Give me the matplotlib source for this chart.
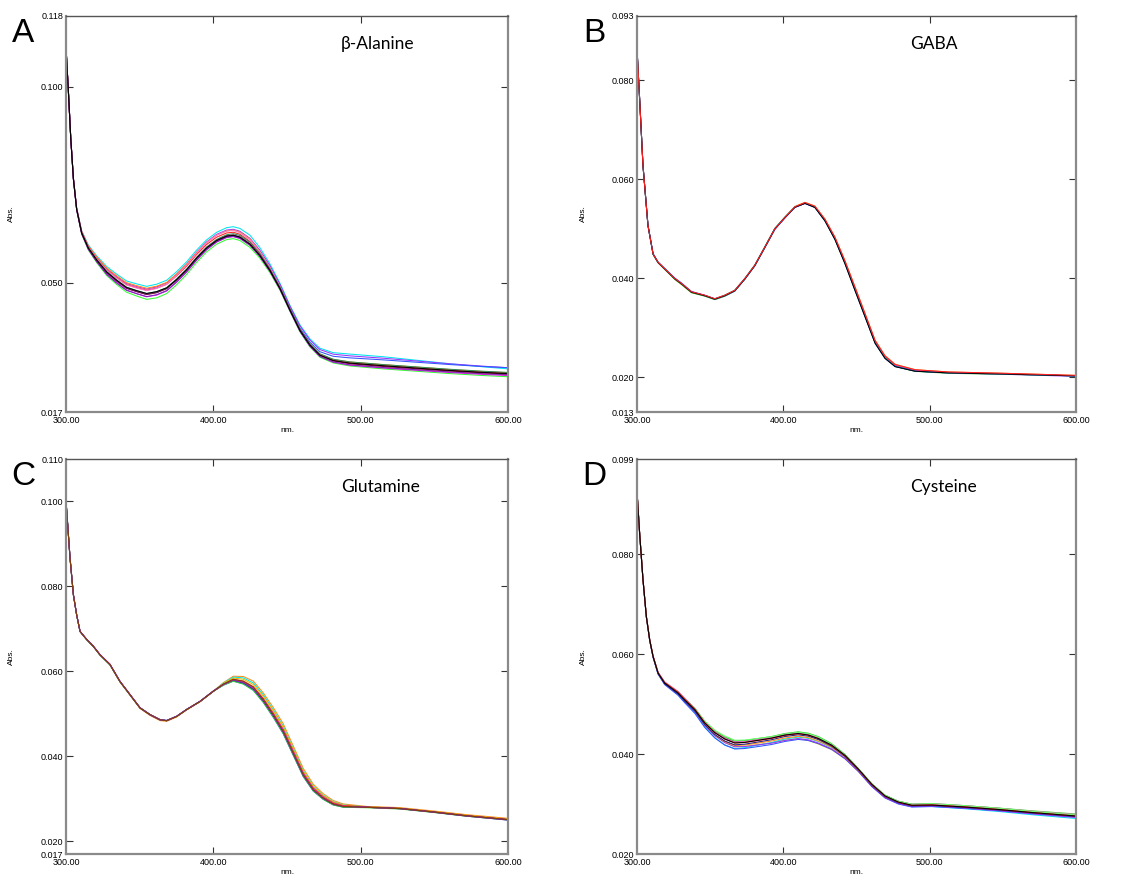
import matplotlib.pyplot as plt
import numpy as np

# ---- data (middle trace of each panel, Abs) ----
wl_a = [300, 301.6, 303.2, 305, 307.2, 310.6, 315.1, 320.8, 327.6, 334.4,
        341.1, 347.9, 354.7, 361.5, 368.3, 375.1, 381.8, 388.6, 395.4, 402.2,
        409, 413.5, 418, 424.8, 431.6, 438.4, 445.2, 451.9, 458.7, 465.5,
        472.3, 481.3, 492.6, 515.2, 537.8, 560.5, 583.1, 600]
abs_a = [0.1098, 0.0987, 0.0868, 0.0765, 0.0688, 0.0628, 0.0590, 0.0560, 0.0530, 0.0509,
         0.0491, 0.0483, 0.0476, 0.0481, 0.0491, 0.0513, 0.0538, 0.0568, 0.0594, 0.0613,
         0.0624, 0.0626, 0.0621, 0.0603, 0.0573, 0.0534, 0.0487, 0.0432, 0.0380, 0.0342,
         0.0316, 0.0302, 0.0295, 0.0288, 0.0282, 0.0276, 0.0271, 0.0268]

wl_b = [300, 301.8, 304.1, 307.5, 311, 314.4, 318.9, 325.8, 330.3, 337.2,
        346.3, 353.2, 360, 366.8, 373.7, 380.5, 387.4, 394.2, 401.1, 407.9,
        414.8, 421.6, 428.5, 435.3, 442.1, 449, 455.8, 462.7, 469.5, 476.4,
        490, 512.9, 547.1, 600]
abs_b = [0.0864, 0.0763, 0.0628, 0.0507, 0.0449, 0.0432, 0.0419, 0.0399, 0.0389, 0.0372,
         0.0365, 0.0358, 0.0365, 0.0375, 0.0399, 0.0426, 0.0463, 0.0500, 0.0523, 0.0544,
         0.0552, 0.0544, 0.0517, 0.0480, 0.0432, 0.0378, 0.0325, 0.0271, 0.0240, 0.0223,
         0.0213, 0.0209, 0.0207, 0.0203]

wl_c = [300, 302.7, 305, 307.2, 309.5, 314, 318.5, 323, 329.8, 336.6,
        343.4, 350.2, 357, 363.8, 368.3, 375.1, 381.8, 390.9, 399.9, 406.7,
        413.5, 420.3, 427.1, 433.8, 440.6, 447.4, 454.2, 461, 467.8, 474.5,
        481.3, 488.1, 503.9, 526.5, 549.1, 571.8, 600]
abs_c = [0.1000, 0.0867, 0.0780, 0.0733, 0.0694, 0.0675, 0.0659, 0.0639, 0.0616, 0.0576,
         0.0545, 0.0514, 0.0498, 0.0486, 0.0484, 0.0494, 0.0510, 0.0529, 0.0553, 0.0569,
         0.0580, 0.0575, 0.0561, 0.0533, 0.0498, 0.0459, 0.0408, 0.0357, 0.0322, 0.0302,
         0.0288, 0.0282, 0.0280, 0.0277, 0.0269, 0.0260, 0.0251]

wl_d = [300, 301.8, 304.1, 306.4, 308.7, 311, 314.4, 318.9, 323.5, 328.1,
        332.6, 339.5, 346.3, 353.2, 360, 366.8, 373.7, 382.8, 391.9, 401.1,
        410.2, 417, 423.9, 433, 442.1, 451.3, 460.4, 469.5, 478.6, 487.8,
        501.5, 524.3, 547.1, 569.9, 600]
abs_d = [0.0926, 0.0842, 0.0749, 0.0675, 0.0628, 0.0595, 0.0562, 0.0542, 0.0532, 0.0522,
         0.0508, 0.0488, 0.0461, 0.0441, 0.0428, 0.0420, 0.0421, 0.0425, 0.0429, 0.0435,
         0.0438, 0.0435, 0.0428, 0.0415, 0.0395, 0.0368, 0.0338, 0.0315, 0.0303, 0.0297,
         0.0298, 0.0294, 0.0289, 0.0283, 0.0276]

# deviation of each repeat scan from the middle trace (mAbs) at these wavelengths
anchor_wl = [300, 330, 360, 400, 425, 450, 500, 600]

colors_a = ['#00e5ee', '#9933ff', '#3355ff', '#ff8c1a', '#ff2020', '#ff77cc',
            '#2e8b57', '#33ff33', '#e020e0', '#8020c0', '#801040', '#000000']
dev_a = [[0, 1.2, 1.5, 1.5, 1.8, 1.0, 2.5, 1.2],
         [0, 0.6, 0.8, 1.0, 1.0, 0.8, 2.0, 1.5],
         [0, -0.5, -0.6, -0.6, -0.6, 0.2, 1.5, 1.5],
         [0, 0.8, 1.0, 0.8, 0.8, 0.0, 0.3, 0.2],
         [0, 0.3, 0.5, 0.3, 0.2, 0.0, 0.0, 0.0],
         [0, 0.2, 0.4, 0.8, 0.6, 0.2, -0.3, -0.4],
         [0, -0.2, -0.4, -0.3, 0.0, 0.2, 0.3, 0.3],
         [0, -1.3, -2.0, -1.5, -1.3, -0.5, -0.8, -0.8],
         [0, -0.8, -1.3, -1.0, -0.8, -0.3, -0.6, -0.5],
         [0, -1.0, -1.2, -0.9, -0.7, -0.3, -0.5, -0.3],
         [0, -0.5, -0.7, -0.5, -0.4, 0.0, -0.2, -0.1],
         [0, -0.3, -0.4, -0.6, -0.5, -0.2, 0.0, 0.0]]

colors_b = ['#ff8c1a', '#9933ff', '#e020e0', '#00e5ee', '#33cc33', '#3355ff', '#000000', '#ff2020']
dev_b = [[0, -0.1, 0.1, 0.1, 0.2, 0.5, 0.2, 0.1],
         [0, 0.0, -0.1, 0.0, -0.1, 0.0, 0.0, -0.1],
         [0, 0.1, 0.0, -0.1, 0.0, 0.1, 0.1, 0.0],
         [0, 0.0, 0.1, 0.1, -0.1, -0.2, 0.0, 0.0],
         [0, -0.1, -0.1, 0.0, 0.0, 0.0, -0.1, 0.0],
         [0, 0.2, 0.0, -0.1, 0.0, -0.2, 0.0, 0.0],
         [0, 0.0, 0.0, 0.0, -0.1, -0.3, 0.0, 0.0],
         [0, 0.1, 0.1, 0.0, 0.2, 0.4, 0.2, 0.1]]

colors_c = ['#ff8c1a', '#00e5ee', '#e0c000', '#ff2020', '#000000',
            '#3355ff', '#33cc33', '#e020e0', '#8020c0', '#804000']
dev_c = [[0, 0.0, -0.2, 0.0, 1.6, 1.8, 0.2, 0.3],
         [0, 0.0, 0.0, 0.0, 1.2, 1.2, 0.1, 0.0],
         [0, 0.0, 0.0, 0.0, 0.8, 1.0, 0.1, 0.1],
         [0, 0.1, 0.0, 0.0, 0.3, 0.5, 0.1, 0.0],
         [0, 0.0, 0.0, 0.0, -0.3, -0.3, 0.0, 0.0],
         [0, 0.0, 0.1, 0.0, -0.5, -0.6, 0.0, -0.1],
         [0, -0.1, 0.0, 0.0, -0.6, -0.5, -0.1, -0.1],
         [0, 0.1, 0.0, 0.0, 0.0, 0.3, 0.0, 0.0],
         [0, 0.0, 0.0, 0.1, -0.2, -0.2, 0.0, -0.1],
         [0, 0.0, 0.0, 0.0, 0.2, 0.0, 0.0, 0.0]]

colors_d = ['#e0d000', '#00e5ee', '#3355ff', '#9933ff', '#e020e0', '#33cc33',
            '#ff8c1a', '#ff77cc', '#66ff66', '#202080', '#ff2020', '#000000']
dev_d = [[0, 0.0, -0.5, -0.7, -0.8, -0.3, 0.0, 0.2],
         [0, -0.3, -1.0, -0.5, -0.3, 0.0, -0.3, -0.5],
         [0, -0.5, -1.0, -1.0, -0.7, -0.3, -0.3, -0.2],
         [0, -0.2, -0.5, -0.8, -0.6, -0.2, -0.2, -0.3],
         [0, 0.3, 0.5, 0.4, 0.5, 0.2, 0.3, 0.2],
         [0, 0.2, 0.6, 0.6, 0.7, 0.3, 0.2, 0.4],
         [0, 0.0, -0.3, -0.3, -0.2, 0.0, 0.1, 0.0],
         [0, 0.3, 0.3, 0.5, 0.4, 0.2, 0.2, 0.3],
         [0, 0.1, 0.8, 0.5, 0.6, 0.2, 0.3, 0.2],
         [0, -0.2, -0.2, 0.0, 0.1, 0.0, -0.1, -0.1],
         [0, 0.2, 0.2, 0.2, 0.3, 0.1, 0.0, 0.0],
         [0, 0.0, 0.2, 0.3, 0.3, 0.2, 0.0, 0.0]]

panels = [
    ('A', 'β-Alanine', wl_a, abs_a, colors_a, dev_a, (0.017, 0.118), [0.017, 0.050, 0.100, 0.118]),
    ('B', 'GABA', wl_b, abs_b, colors_b, dev_b, (0.013, 0.093), [0.013, 0.020, 0.040, 0.060, 0.080, 0.093]),
    ('C', 'Glutamine', wl_c, abs_c, colors_c, dev_c, (0.017, 0.110), [0.017, 0.020, 0.040, 0.060, 0.080, 0.100, 0.110]),
    ('D', 'Cysteine', wl_d, abs_d, colors_d, dev_d, (0.020, 0.099), [0.020, 0.040, 0.060, 0.080, 0.099]),
]

# axes boxes in figure fractions [left, bottom, width, height]
boxes = [[0.0584, 0.5302, 0.3908, 0.4516],
         [0.5632, 0.5302, 0.3882, 0.4516],
         [0.0584, 0.0262, 0.3908, 0.4504],
         [0.5632, 0.0262, 0.3882, 0.4504]]

tick_font = 'Liberation Sans'
fig = plt.figure(figsize=(11.31, 8.77), dpi=100)

for (letter, name, wl, ab, cols, devs, ylim, yticks), box in zip(panels, boxes):
    ax = fig.add_axes(box)
    wl = np.array(wl)
    ab = np.array(ab)
    for c, d in zip(cols, devs):
        y = ab + np.interp(wl, anchor_wl, d) / 1000.0
        ax.plot(wl, y, color=c, lw=0.75)

    ax.set_xlim(300, 600)
    ax.set_ylim(*ylim)
    ax.set_xticks([300, 400, 500, 600])
    ax.set_xticklabels(['300.00', '400.00', '500.00', '600.00'])
    ax.set_yticks(yticks)
    ax.set_yticklabels(['%.3f' % v for v in yticks])
    ax.tick_params(axis='both', direction='in', length=5, width=0.8, color='#333333',
                   labelsize=6.5, pad=2, top=True, right=True)
    ax.tick_params(axis='x', pad=3)
    for lab in ax.get_xticklabels() + ax.get_yticklabels():
        lab.set_family(tick_font)
    # no tick marks at the ends of the axes
    for tk in [ax.xaxis.get_major_ticks()[0], ax.xaxis.get_major_ticks()[-1],
               ax.yaxis.get_major_ticks()[0], ax.yaxis.get_major_ticks()[-1]]:
        tk.tick1line.set_visible(False)
        tk.tick2line.set_visible(False)

    for side in ['left', 'right', 'bottom']:
        ax.spines[side].set_color('#8a8a8a')
        ax.spines[side].set_linewidth(1.6)
    ax.spines['top'].set_color('#555555')
    ax.spines['top'].set_linewidth(1.0)

    ax.set_xlabel('nm.', fontsize=6, family=tick_font, labelpad=1)
    ax.set_ylabel('Abs.', fontsize=6, family=tick_font)
    ax.yaxis.set_label_coords(-0.115, 0.5)

    ax.text(-0.097, 0.995, letter, transform=ax.transAxes, fontsize=24,
            family=tick_font, ha='center', va='top')
    ax.text(0.622, 0.93, name, transform=ax.transAxes, fontsize=12.5,
            family='Lato', ha='left', va='center')

plt.savefig('out.png', dpi=100)
